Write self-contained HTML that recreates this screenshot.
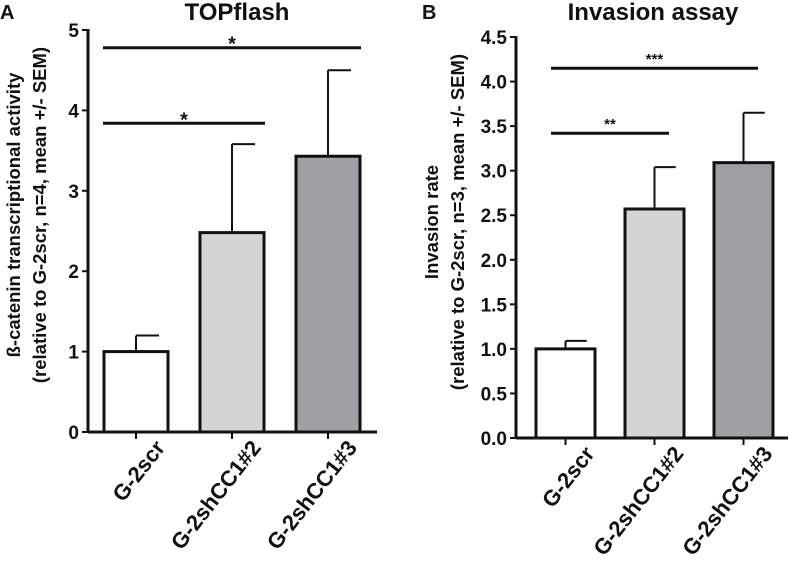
<!DOCTYPE html>
<html><head><meta charset="utf-8"><style>
body{margin:0;background:#fff}
svg{display:block;font-family:"Liberation Sans",Arial,sans-serif}
text{font-weight:bold;fill:#111}
</style></head><body>
<svg id="chart" width="790" height="568" viewBox="0 0 790 568" xmlns="http://www.w3.org/2000/svg"></svg>
<script>
const categories = ["G-2scr","G-2shCC1#2","G-2shCC1#3"];
const topValues = [1.0, 2.48, 3.43];
const topErr = [0.2, 1.1, 1.07];
const topTicks = [0,1,2,3,4,5];
const invValues = [1.0, 2.57, 3.09];
const invErr = [0.09, 0.47, 0.56];
const invTicks = ["0.0","0.5","1.0","1.5","2.0","2.5","3.0","3.5","4.0","4.5"];
const fills = ["#ffffff","#d4d4d4","#a0a0a4"];
const topSig = [{a:0,b:2,y:4.78,label:"*"},{a:0,b:1,y:3.84,label:"*"}];
const invSig = [{a:0,b:2,y:4.15,label:"***"},{a:0,b:1,y:3.42,label:"**"}];

const NS="http://www.w3.org/2000/svg";
const svg=document.getElementById('chart');
function mk(tag,attrs,parent,txt){const e=document.createElementNS(NS,tag);for(const k in attrs)e.setAttribute(k,attrs[k]);if(txt!==undefined)e.textContent=txt;(parent||svg).appendChild(e);return e;}

function panel(o){
  const g=mk('g',{});
  
  
  const y=v=>o.y0-(v-o.min)/(o.max-o.min)*(o.y0-o.yTop);
  const x=i=>o.barX0+i*o.step;
  const L=mk('text',{x:o.letterX,y:19,'font-size':20},g,o.letter);
  
  
  const T=mk('text',{x:o.titleX,y:20,'font-size':24,'text-anchor':'middle'},g,o.title);
  
  
  const yt=mk('text',{transform:`translate(${o.ytX},${o.ytY}) rotate(-90)`,'font-size':18.5,'text-anchor':'middle'},g);
  
  
  o.ytLines.forEach((s,i)=>mk('tspan',{x:0,dy:i?o.ytGap:0},yt,s));
  o.values.forEach((v,i)=>{
    const cx=x(i)+o.bw/2;
    const et=y(v+o.err[i]);
    const el=mk('line',{x1:cx,x2:cx,y1:y(v),y2:et,stroke:'#111','stroke-width':2},g);
    
    
    mk('line',{x1:cx,x2:cx+o.bw*0.36,y1:et,y2:et,stroke:'#111','stroke-width':2},g);
    const r=mk('rect',{x:x(i),y:y(v),width:o.bw,height:o.y0-y(v),fill:fills[i],stroke:'#111','stroke-width':3},g);
    
    
    const tk=mk('line',{x1:cx,x2:cx,y1:o.y0,y2:o.y0+7,stroke:'#111','stroke-width':2},g);
    
    
    const lb=mk('text',{transform:`translate(${cx+30},${o.y0+16}) rotate(-52)`,'font-size':22,'text-anchor':'end'},g,categories[i]);
    
    
  });
  const ya=mk('line',{x1:o.ax,x2:o.ax,y1:o.yTop-1,y2:o.y0+1,stroke:'#111','stroke-width':3},g);
  
  
  const xa=mk('line',{x1:o.ax,x2:o.axEnd,y1:o.y0,y2:o.y0,stroke:'#111','stroke-width':3},g);
  
  
  o.ticks.forEach(t=>{
    const yy=y(parseFloat(t));
    mk('line',{x1:o.ax-6,x2:o.ax,y1:yy,y2:yy,stroke:'#111','stroke-width':2},g);
    const tl=mk('text',{x:o.ax-9,y:yy+7,'font-size':19,'text-anchor':'end'},g,String(t));
    
    
  });
  o.sig.forEach(s=>{
    const x1=x(s.a)+o.sigPad, x2=x(s.b)+o.bw-o.sigPad;
    const sl=mk('line',{x1:x1,x2:x2,y1:y(s.y),y2:y(s.y),stroke:'#111','stroke-width':3},g);
    
    
    const st=mk('text',{x:(x1+x2)/2,y:y(s.y)-(s.label.length>1?4:-3),'font-size':s.label.length>1?15:20,'text-anchor':'middle'},g,s.label);
    
    
  });
}
panel({name:'topflash-panel',letter:'A',letterX:0,title:'TOPflash',titleX:237,ytX:20,ytY:215,ytGap:26,
  ytLines:['ß-catenin transcriptional activity','(relative to G-2scr, n=4, mean +/- SEM)'],
  values:topValues,err:topErr,ticks:topTicks,min:0,max:5,y0:432,yTop:30,ax:88,axEnd:377,
  barX0:104,step:96,bw:64,sig:topSig,sigPad:-1});
panel({name:'invasion-panel',letter:'B',letterX:422,title:'Invasion assay',titleX:653,ytX:438,ytY:222,ytGap:26,
  ytLines:['Invasion rate','(relative to G-2scr, n=3, mean +/- SEM)'],
  values:invValues,err:invErr,ticks:invTicks,min:0,max:4.5,y0:438,yTop:37,ax:516,axEnd:788,
  barX0:536,step:89,bw:59,sig:invSig,sigPad:15});
</script>
</body></html>
